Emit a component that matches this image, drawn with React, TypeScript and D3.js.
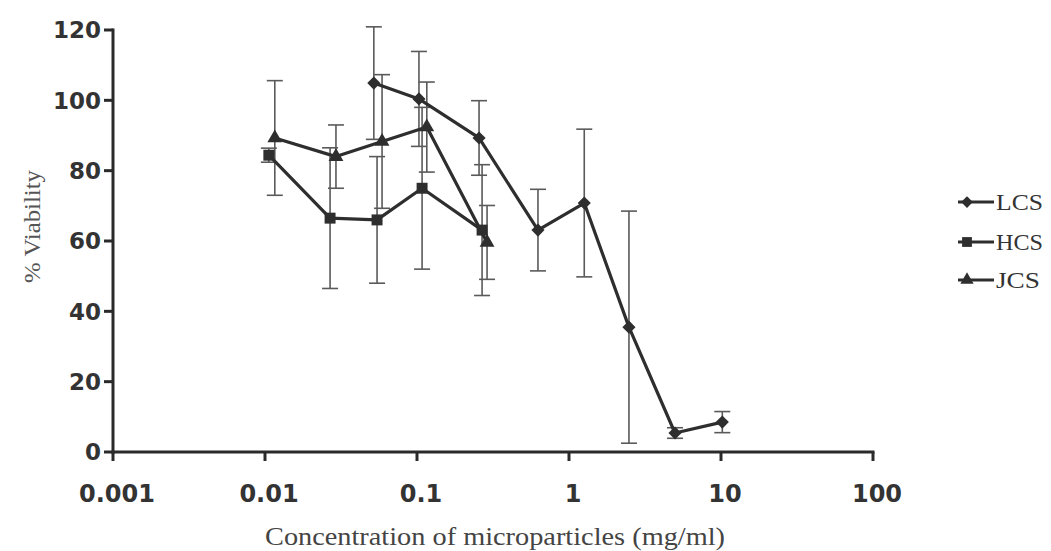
import * as d3 from 'd3';
import { useEffect, useRef } from 'react';

// concentrations (mg/ml), mean viability (%), and error (+/-)
const lcsConc = [0.052, 0.103, 0.256, 0.625, 1.26, 2.48, 4.98, 10.2];
const lcsMean = [104.9, 100.4, 89.3, 63.1, 70.8, 35.5, 5.4, 8.5];
const lcsErr = [16, 13.5, 10.6, 11.6, 21, 33, 1.5, 3];

const hcsConc = [0.0106, 0.0268, 0.0546, 0.108, 0.268];
const hcsMean = [84.4, 66.5, 66, 75, 63.1];
const hcsErr = [2, 20, 18, 23, 18.6];

const jcsConc = [0.0116, 0.0293, 0.0589, 0.116, 0.289];
const jcsMean = [89.3, 84, 88.3, 92.4, 59.6];
const jcsErr = [16.3, 9, 19, 12.8, 10.5];

const xTicks = [0.001, 0.01, 0.1, 1, 10, 100];
const xTickLabels = ['0.001', '0.01', '0.1', '1', '10', '100'];
const yTicks = [0, 20, 40, 60, 80, 100, 120];

const seriesNames = ['LCS', 'HCS', 'JCS'];

const WIDTH = 1051;
const HEIGHT = 551;
const LINE_COLOR = '#2e2e2e';
const ERR_COLOR = '#5a5a5a';

function buildSeries(conc: number[], mean: number[], err: number[]) {
  return conc.map((c, i) => ({ conc: c, mean: mean[i], err: err[i] }));
}

export default function App() {
  const ref = useRef<SVGSVGElement>(null);

  useEffect(() => {
    const svg = d3.select(ref.current);
    svg.selectAll('*').remove();

    const x = d3.scaleLog().domain([0.001, 100]).range([113, 873]);
    const y = d3.scaleLinear().domain([0, 120]).range([452, 30]);

    svg.append('rect').attr('width', WIDTH).attr('height', HEIGHT).attr('fill', '#fff');

    const series = [
      { name: 'LCS', data: buildSeries(lcsConc, lcsMean, lcsErr), symbol: 'diamond' },
      { name: 'HCS', data: buildSeries(hcsConc, hcsMean, hcsErr), symbol: 'square' },
      { name: 'JCS', data: buildSeries(jcsConc, jcsMean, jcsErr), symbol: 'triangle' },
    ];

    const markerPath = (kind: string, scale = 1) => {
      if (kind === 'diamond') return d3.symbol(d3.symbolDiamond2, 110 * scale)();
      if (kind === 'square') return d3.symbol(d3.symbolSquare, 120 * scale)();
      return d3.symbol(d3.symbolTriangle, 95 * scale)();
    };

    // error bars
    const capW = 8;
    series.forEach((s) => {
      const eg = svg.append('g').attr('stroke', ERR_COLOR).attr('stroke-width', 1.6).attr('fill', 'none');
      s.data.forEach((d) => {
        const cx = x(d.conc);
        const top = y(d.mean + d.err);
        const bot = y(d.mean - d.err);
        eg.append('line').attr('x1', cx).attr('x2', cx).attr('y1', top).attr('y2', bot);
        eg.append('line').attr('x1', cx - capW).attr('x2', cx + capW).attr('y1', top).attr('y2', top);
        eg.append('line').attr('x1', cx - capW).attr('x2', cx + capW).attr('y1', bot).attr('y2', bot);
      });
    });

    // lines + markers
    const line = d3.line<{ conc: number; mean: number }>()
      .x((d) => x(d.conc))
      .y((d) => y(d.mean));

    series.forEach((s) => {
      svg.append('path')
        .datum(s.data)
        .attr('d', line)
        .attr('fill', 'none')
        .attr('stroke', LINE_COLOR)
        .attr('stroke-width', 3.2)
        .attr('stroke-linejoin', 'round');

      svg.append('g')
        .selectAll('path')
        .data(s.data)
        .enter()
        .append('path')
        .attr('transform', (d) => `translate(${x(d.conc)},${y(d.mean)})`)
        .attr('d', markerPath(s.symbol))
        .attr('fill', LINE_COLOR);
    });

    // axes
    const axisG = svg.append('g').attr('stroke', '#2a2a2a').attr('stroke-width', 3);
    axisG.append('line').attr('x1', 113).attr('x2', 113).attr('y1', y(120) - 1.5).attr('y2', y(0) + 2);
    axisG.append('line').attr('x1', 111.5).attr('x2', x(100) + 1.5).attr('y1', y(0)).attr('y2', y(0));

    yTicks.forEach((t) => {
      axisG.append('line').attr('x1', 104).attr('x2', 113).attr('y1', y(t)).attr('y2', y(t));
      svg.append('text')
        .attr('x', 101)
        .attr('y', y(t))
        .attr('dy', '0.36em')
        .attr('text-anchor', 'end')
        .style('font-family', 'DejaVu Sans, sans-serif')
        .style('font-weight', 700)
        .style('font-size', '23px')
        .style('fill', '#333')
        .text(String(t));
    });

    xTicks.forEach((t, i) => {
      axisG.append('line').attr('x1', x(t)).attr('x2', x(t)).attr('y1', y(0)).attr('y2', y(0) + 9);
      svg.append('text')
        .attr('x', x(t) + 4)
        .attr('y', 502)
        .attr('text-anchor', 'middle')
        .style('font-family', 'DejaVu Sans, sans-serif')
        .style('font-weight', 700)
        .style('font-size', '24px')
        .style('fill', '#333')
        .text(xTickLabels[i]);
    });

    // axis titles
    svg.append('text')
      .attr('x', 265)
      .attr('y', 545)
      .attr('textLength', 460)
      .attr('lengthAdjust', 'spacingAndGlyphs')
      .style('font-family', 'Liberation Serif, serif')
      .style('font-size', '26px')
      .style('fill', '#444')
      .text('Concentration of microparticles (mg/ml)');

    svg.append('text')
      .attr('transform', 'translate(40,283) rotate(-90)')
      .attr('textLength', 113)
      .attr('lengthAdjust', 'spacingAndGlyphs')
      .style('font-family', 'Liberation Serif, serif')
      .style('font-size', '24px')
      .style('fill', '#555')
      .text('% Viability');

    // legend
    const legendY = [202, 242, 280];
    const symbols = ['diamond', 'square', 'triangle'];
    seriesNames.forEach((name, i) => {
      const ly = legendY[i];
      svg.append('line')
        .attr('x1', 958).attr('x2', 994).attr('y1', ly).attr('y2', ly)
        .attr('stroke', LINE_COLOR).attr('stroke-width', 3.2);
      svg.append('path')
        .attr('transform', `translate(967,${ly})`)
        .attr('d', markerPath(symbols[i], 0.8))
        .attr('fill', LINE_COLOR);
      svg.append('text')
        .attr('x', 996)
        .attr('y', ly + 8)
        .attr('textLength', name === 'JCS' ? 44 : 47)
        .attr('lengthAdjust', 'spacingAndGlyphs')
        .style('font-family', 'Liberation Serif, serif')
        .style('font-size', '24px')
        .style('fill', '#333')
        .text(name);
    });
  }, []);

  return (
    <svg
      ref={ref}
      width={WIDTH}
      height={HEIGHT}
      style={{ position: 'absolute', left: 0, top: 0 }}
      role="img"
      aria-label="Viability vs concentration of microparticles"
    />
  );
}
